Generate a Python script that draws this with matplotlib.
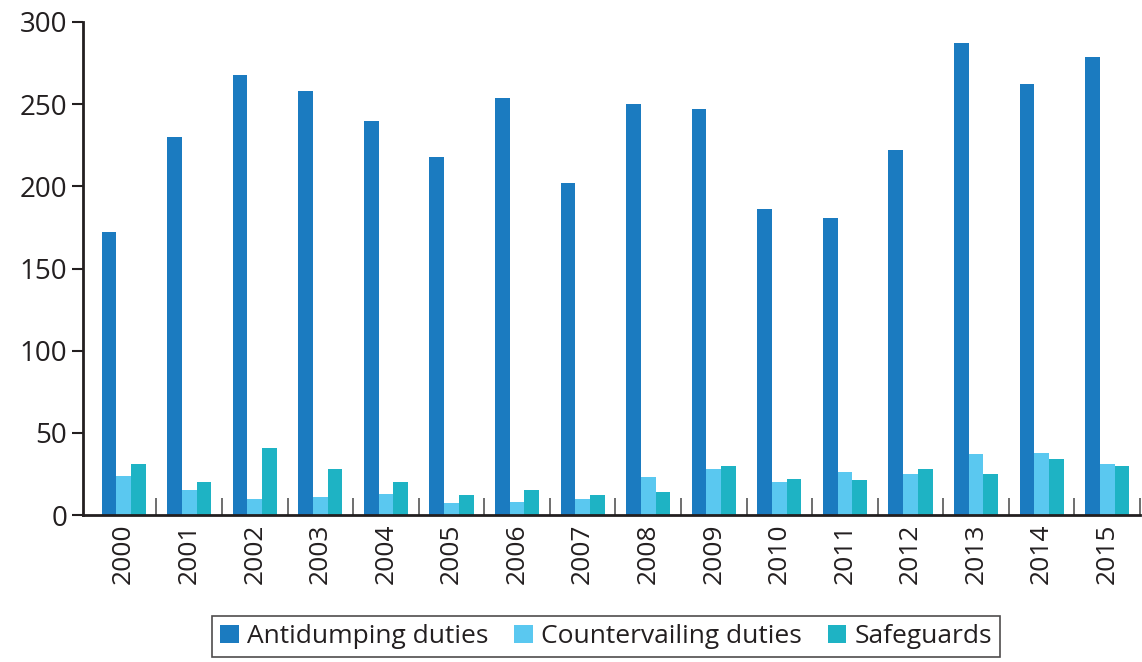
import numpy as np
import matplotlib.pyplot as plt
from matplotlib.ticker import MultipleLocator

years = [str(y) for y in range(2000, 2016)]
antidumping = [172, 230, 268, 258, 240, 218, 254, 202, 250, 247, 186, 181, 222, 287, 262, 279]
countervailing = [24, 15, 10, 11, 13, 7, 8, 10, 23, 28, 20, 26, 25, 37, 38, 31]
safeguards = [31, 20, 41, 28, 20, 12, 15, 12, 14, 30, 22, 21, 28, 25, 34, 30]

colors = ["#1B7BC0", "#5AC8F0", "#1EB3C4"]
labels = ["Antidumping duties", "Countervailing duties", "Safeguards"]

plt.rcParams['font.family'] = ['Open Sans', 'DejaVu Sans']

fig = plt.figure(figsize=(11.42, 6.62), dpi=100)
ax = fig.add_axes([83 / 1142, 1 - 515 / 662, (1140 - 83) / 1142, (515 - 22) / 662])

x = np.arange(len(years))
w = 0.225
for i, (vals, c, lab) in enumerate(zip([antidumping, countervailing, safeguards], colors, labels)):
    ax.bar(x + (i - 1) * w, vals, width=w, color=c, label=lab)

ax.set_xlim(-0.62, 15.5)
ax.set_ylim(0, 300)
ax.yaxis.set_major_locator(MultipleLocator(50))
ax.set_xticks(x)
ax.set_xticklabels(years, rotation=90)
ax.set_xticks(list(x + 0.5), minor=True)
ax.tick_params(axis='x', which='major', length=0, labelsize=19, colors='#231f20', pad=6)
ax.tick_params(axis='x', which='minor', direction='in', length=12, width=1.2, color='#555555')
ax.tick_params(axis='y', labelsize=20, colors='#231f20', length=8, width=1.5, color='#231f20')
for s in ['top', 'right']:
    ax.spines[s].set_visible(False)
for s in ['left', 'bottom']:
    ax.spines[s].set_linewidth(2)
    ax.spines[s].set_color('#231f20')

leg = fig.legend(loc='center', bbox_to_anchor=(606 / 1142, 0.038), ncol=3, fontsize=19,
                 frameon=True, fancybox=False, edgecolor='#231f20', handlelength=0.7,
                 handleheight=0.7, handletextpad=0.3, columnspacing=1.0, borderpad=0.3)
leg.get_frame().set_linewidth(1.2)
for t in leg.get_texts():
    t.set_color('#231f20')

fig.savefig("out.png", dpi=100)
